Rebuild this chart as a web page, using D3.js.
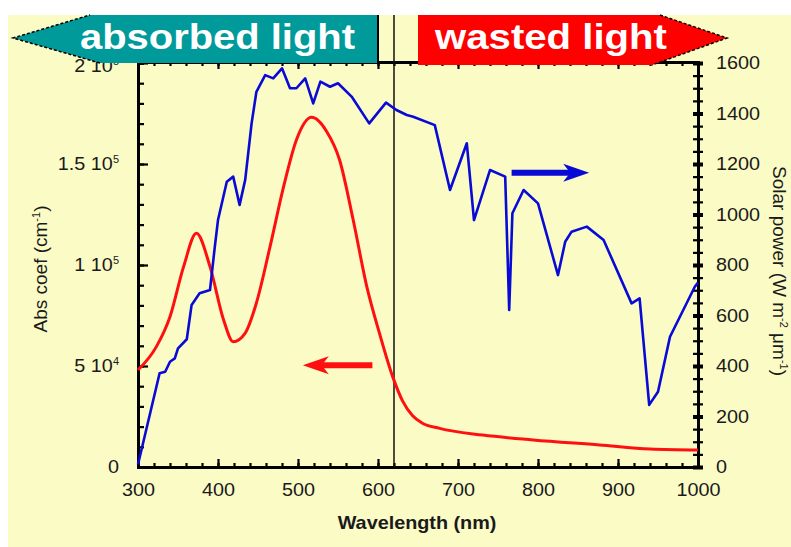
<!DOCTYPE html>
<html>
<head>
<meta charset="utf-8">
<script src="https://cdn.jsdelivr.net/npm/d3@7"></script>
<style>
  html, body { margin: 0; padding: 0; background: #ffffff; }
  svg { display: block; }
  text { font-family: "Liberation Sans", Arial, sans-serif; }
</style>
</head>
<body>
<svg id="chart" width="791" height="547"></svg>
<script>
// Absorption coefficient of the dye (cm^-1), wavelength in nm
const absWavelength = [300, 323, 340, 357, 373, 390, 407, 419, 434, 448, 465, 482, 498, 517, 536, 552, 569, 586, 602, 619, 631, 643, 655, 677, 731, 794, 877, 940, 1000];
const absCoef = [48000, 59600, 74400, 99200, 115700, 99200, 72800, 62000, 66300, 81200, 109000, 138800, 161900, 173100, 166000, 152000, 122300, 89300, 66000, 44000, 32500, 25500, 21800, 19100, 15800, 13400, 10900, 8900, 8400];

// Solar spectral irradiance (W m^-2 um^-1)
const solarWavelength = [300, 327, 334, 340, 346, 350, 361, 367, 377, 390, 396, 400, 411, 419, 427, 434, 442, 448, 459, 469, 480, 490, 498, 509, 519, 528, 540, 550, 567, 589, 610, 623, 636, 644, 671, 690, 711, 720, 740, 759, 764, 768, 782, 800, 825, 834, 842, 861, 882, 917, 927, 939, 950, 965, 996, 1000];
const solarPower = [10, 371, 377, 417, 430, 470, 506, 642, 688, 701, 872, 978, 1130, 1150, 1038, 1137, 1361, 1486, 1552, 1539, 1579, 1500, 1500, 1539, 1440, 1526, 1506, 1520, 1467, 1361, 1443, 1414, 1394, 1387, 1354, 1097, 1282, 978, 1176, 1150, 622, 1005, 1097, 1044, 760, 892, 932, 952, 899, 648, 668, 246, 298, 516, 714, 730];

// Axis ticks
const xTicks = [300, 400, 500, 600, 700, 800, 900, 1000];
const leftTicks = [0, 50000, 100000, 150000, 200000];
const leftTickMantissa = ["0", "5", "1", "1.5", "2"];
const leftTickExponent = ["", "4", "5", "5", "5"];
const rightTicks = [0, 200, 400, 600, 800, 1000, 1200, 1400, 1600];

// Band edge marker and the two banners
const cutoffWavelength = 620;
const bannerLabels = ["absorbed light", "wasted light"];

const svg = d3.select("#chart");

const x = d3.scaleLinear().domain([300, 1000]).range([138, 698]);
const yL = d3.scaleLinear().domain([0, 200000]).range([467, 63]);
const yR = d3.scaleLinear().domain([0, 1600]).range([467, 63]);

const STRETCH = 1.1;   // labels are set slightly wide
const TICK_FONT = 18;

// Pale yellow canvas
svg.append("rect").attr("x", 8).attr("y", 15).attr("width", 783).attr("height", 532).attr("fill", "#fbfbc6");

const axisStyle = g => {
  g.select(".domain").attr("stroke", "#000").attr("stroke-width", 3);
  g.selectAll(".tick line").attr("stroke", "#000").attr("stroke-width", 2.2);
  g.selectAll("text").attr("fill", "#1a1a1a").attr("font-size", TICK_FONT).attr("font-family", null);
};
// widen tick labels horizontally while keeping their anchor position
const widen = g => g.selectAll(".tick text").each(function() {
  const t = d3.select(this);
  const tx = +(t.attr("x") || 0);
  t.attr("x", tx / STRETCH).attr("transform", `scale(${STRETCH},1)`);
});

const xMinor = d3.range(300, 1001, 20);
const yLMinor = d3.range(0, 200001, 10000);
const yRMinor = d3.range(0, 1601, 50);

// bottom axis
svg.append("g").attr("transform", "translate(0,467)")
  .call(d3.axisBottom(x).tickValues(xMinor).tickSize(-4).tickFormat(""))
  .call(axisStyle);
svg.append("g").attr("transform", "translate(0,467)")
  .call(d3.axisBottom(x).tickValues(xTicks).tickSize(-8).tickPadding(16).tickFormat(d3.format("d")))
  .call(axisStyle)
  .call(widen)
  .call(g => g.select(".domain").remove());

// top frame
svg.append("g").attr("transform", "translate(0,62)")
  .call(d3.axisTop(x).tickValues(xMinor).tickSize(-4).tickFormat(""))
  .call(axisStyle);
svg.append("g").attr("transform", "translate(0,62)")
  .call(d3.axisTop(x).tickValues(xTicks).tickSize(-7).tickFormat(""))
  .call(axisStyle)
  .call(g => g.select(".domain").remove());

// left axis
svg.append("g").attr("transform", "translate(138,0)")
  .call(d3.axisLeft(yL).tickValues(yLMinor).tickSize(-6).tickFormat(""))
  .call(axisStyle);
const leftAxis = svg.append("g").attr("transform", "translate(138,0)")
  .call(d3.axisLeft(yL).tickValues(leftTicks).tickSize(-10).tickPadding(19).tickFormat(""))
  .call(axisStyle)
  .call(widen)
  .call(g => g.select(".domain").remove());
leftAxis.selectAll(".tick text").each(function(d, i) {
  const t = d3.select(this);
  // the topmost label sits just under the banner
  if (d === 200000) t.attr("dy", "0.46em");
  t.append("tspan").text(leftTickMantissa[i]);
  if (leftTickExponent[i]) {
    t.append("tspan").text(" 10");
    t.append("tspan").attr("dy", -7).attr("font-size", 10).text(leftTickExponent[i]);
  }
});

// right axis: ticks cross the axis line
svg.append("g").attr("transform", "translate(698,0)")
  .call(d3.axisRight(yR).tickValues(yRMinor).tickSize(5).tickFormat(""))
  .call(axisStyle)
  .call(g => g.selectAll(".tick line").attr("x1", -5));
svg.append("g").attr("transform", "translate(698,0)")
  .call(d3.axisRight(yR).tickValues(rightTicks).tickSize(5).tickPadding(13).tickFormat(d3.format("d")))
  .call(axisStyle)
  .call(widen)
  .call(g => g.select(".domain").remove())
  .call(g => g.selectAll(".tick line").attr("x1", -5).attr("stroke-width", 4));

// cutoff line
svg.append("line")
  .attr("x1", x(cutoffWavelength)).attr("x2", x(cutoffWavelength))
  .attr("y1", 15).attr("y2", 467)
  .attr("stroke", "#111").attr("stroke-width", 1.5);

// curves
const absLine = d3.line().x((d, i) => x(absWavelength[i])).y(d => yL(d)).curve(d3.curveMonotoneX);
svg.append("path").datum(absCoef).attr("d", absLine)
  .attr("fill", "none").attr("stroke", "#ff1010").attr("stroke-width", 3).attr("stroke-linejoin", "round");

const solarLine = d3.line().x((d, i) => x(solarWavelength[i])).y(d => yR(d));
svg.append("path").datum(solarPower).attr("d", solarLine)
  .attr("fill", "none").attr("stroke", "#0a0ad6").attr("stroke-width", 2.6).attr("stroke-linejoin", "round");

// series arrows
function arrow(x0, x1, y, color) {
  const dir = Math.sign(x1 - x0);
  svg.append("line").attr("x1", x0).attr("x2", x1 - dir * 12).attr("y1", y).attr("y2", y)
    .attr("stroke", color).attr("stroke-width", 6);
  svg.append("path")
    .attr("d", `M${x1},${y} L${x1 - dir * 26},${y - 9} L${x1 - dir * 19},${y} L${x1 - dir * 26},${y + 9} Z`)
    .attr("fill", color);
}
arrow(x(593), x(506), yL(50400), "#ff1010");
arrow(x(767), x(864), yR(1165), "#0a0ad6");

// banners
svg.append("path")
  .attr("d", "M13,38 L90,15 L378,15 L378,63 L100,63 Z")
  .attr("fill", "#009a9a");
svg.append("path").attr("d", "M100,63 L13,38 L90,15")
  .attr("fill", "none").attr("stroke", "#000").attr("stroke-width", 1.5).attr("stroke-dasharray", "3,2");
svg.append("line").attr("x1", 378).attr("x2", 378).attr("y1", 15).attr("y2", 63)
  .attr("stroke", "#000").attr("stroke-width", 2);
svg.append("text").attr("x", 80).attr("y", 49)
  .attr("fill", "#ffffff").attr("font-size", 35).attr("font-weight", "bold")
  .attr("textLength", 275).attr("lengthAdjust", "spacingAndGlyphs")
  .text(bannerLabels[0]);

svg.append("path")
  .attr("d", "M418,15 L660,15 L727,38 L652,65 L418,65 Z")
  .attr("fill", "#ff0000");
svg.append("path").attr("d", "M660,15 L727,38 L652,65")
  .attr("fill", "none").attr("stroke", "#000").attr("stroke-width", 1.5).attr("stroke-dasharray", "3,2");
svg.append("text").attr("x", 435).attr("y", 49)
  .attr("fill", "#ffffff").attr("font-size", 35).attr("font-weight", "bold")
  .attr("textLength", 232).attr("lengthAdjust", "spacingAndGlyphs")
  .text(bannerLabels[1]);

// axis titles
svg.append("text").attr("transform", `translate(417,529) scale(${STRETCH},1)`)
  .attr("text-anchor", "middle")
  .attr("font-size", 18).attr("font-weight", "bold").attr("fill", "#1a1a1a")
  .text("Wavelength (nm)");

const leftTitle = svg.append("text")
  .attr("transform", "translate(47,269) rotate(-90)")
  .attr("text-anchor", "middle").attr("font-size", 19).attr("fill", "#1a1a1a");
leftTitle.append("tspan").text("Abs coef (cm");
leftTitle.append("tspan").attr("dy", -7).attr("font-size", 11).text("-1");
leftTitle.append("tspan").attr("dy", 7).text(")");

const rightTitle = svg.append("text")
  .attr("transform", "translate(773,271) rotate(90)")
  .attr("text-anchor", "middle").attr("font-size", 19).attr("fill", "#1a1a1a");
rightTitle.append("tspan").text("Solar power (W m");
rightTitle.append("tspan").attr("dy", -7).attr("font-size", 11).text("-2");
rightTitle.append("tspan").attr("dy", 7).text(" \u03bcm");
rightTitle.append("tspan").attr("dy", -7).attr("font-size", 11).text("-1");
rightTitle.append("tspan").attr("dy", 7).text(")");
</script>
</body>
</html>
